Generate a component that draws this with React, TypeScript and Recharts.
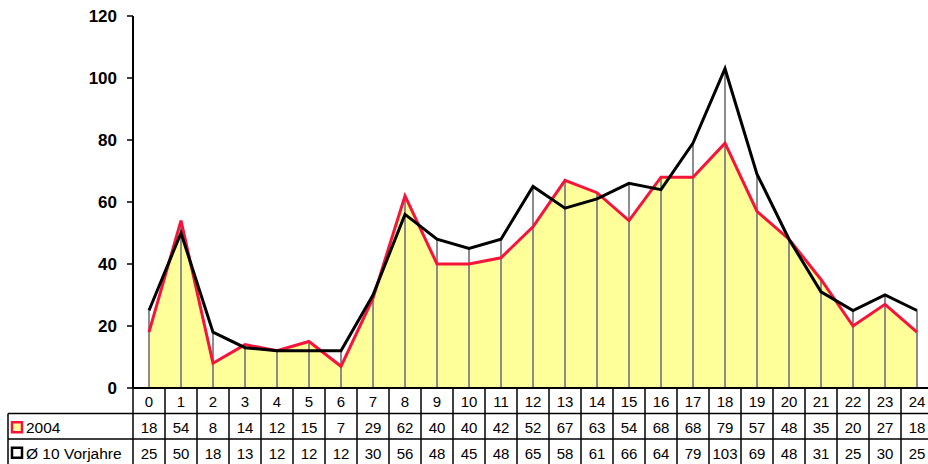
import React from "react";
import { ComposedChart, Area, Line, Bar, XAxis, YAxis } from "recharts";

// hours of the day
const HOURS = [
  "0", "1", "2", "3", "4", "5", "6", "7", "8", "9", "10", "11", "12",
  "13", "14", "15", "16", "17", "18", "19", "20", "21", "22", "23", "24",
];
const SERIES_2004 = [18, 54, 8, 14, 12, 15, 7, 29, 62, 40, 40, 42, 52, 67, 63, 54, 68, 68, 79, 57, 48, 35, 20, 27, 18];
const SERIES_AVG = [25, 50, 18, 13, 12, 12, 12, 30, 56, 48, 45, 48, 65, 58, 61, 66, 64, 79, 103, 69, 48, 31, 25, 30, 25];
const Y_TICKS = [0, 20, 40, 60, 80, 100, 120];

const LABEL_2004 = "2004";
const LABEL_AVG = "Ø 10 Vorjahre";

const FONT = "'Liberation Sans', Arial, sans-serif";
const RED = "#f5143c";
const FILL = "#ffff99";
const COL = 32;
const ROW = 25.5;
const LEGEND_LEFT = 8;

const data = HOURS.map((h, i) => ({
  hour: h,
  y2004: SERIES_2004[i],
  avg: SERIES_AVG[i],
  peak: Math.max(SERIES_2004[i], SERIES_AVG[i]),
}));

// vertical drop line from the axis up to the higher of both series
function DropLine(props: any) {
  const { x, y, width, height } = props;
  if (!height) return null;
  const cx = x + width / 2;
  return <line x1={cx} x2={cx} y1={y} y2={y + height} stroke="#8c8c8c" strokeWidth={2} />;
}

// x axis tick drawn as one column of the data table below the plot
function TableTick(props: any) {
  const { x, y, index, payload } = props;
  const left = x - COL / 2;
  const right = x + COL / 2;
  const r1 = y + ROW / 2;
  const r2 = y + ROW * 1.5;
  const r3 = y + ROW * 2.5;
  const txt = { fontFamily: FONT, fontSize: 15, fill: "#000", textAnchor: "middle" as const, dominantBaseline: "central" as const };
  return (
    <g>
      <line x1={right} x2={right} y1={y} y2={y + ROW * 3 + 2} stroke="#000" strokeWidth={1.5} />
      {index === 0 && (
        <g>
          <line x1={left} x2={left} y1={y} y2={y + ROW * 3 + 2} stroke="#000" strokeWidth={1.5} />
          <line x1={LEGEND_LEFT} x2={LEGEND_LEFT} y1={y + ROW} y2={y + ROW * 3 + 2} stroke="#000" strokeWidth={1.5} />
          <line x1={LEGEND_LEFT} x2={left} y1={y + ROW} y2={y + ROW} stroke="#000" strokeWidth={1.5} />
          <line x1={LEGEND_LEFT} x2={left} y1={y + ROW * 2} y2={y + ROW * 2} stroke="#000" strokeWidth={1.5} />
          <rect x={LEGEND_LEFT + 4} y={r2 - 4} width={10} height={10} fill={FILL} stroke={RED} strokeWidth={2.5} />
          <text x={LEGEND_LEFT + 18} y={r2 + 1.5} fontFamily={FONT} fontSize={15.5} dominantBaseline="central">{LABEL_2004}</text>
          <rect x={LEGEND_LEFT + 4} y={r3 - 4} width={10} height={10} fill="#fff" stroke="#000" strokeWidth={2.5} />
          <text x={LEGEND_LEFT + 18} y={r3 + 1.5} fontFamily={FONT} fontSize={15.5} dominantBaseline="central">{LABEL_AVG}</text>
        </g>
      )}
      <line x1={left} x2={right} y1={y + ROW} y2={y + ROW} stroke="#000" strokeWidth={1.5} />
      <line x1={left} x2={right} y1={y + ROW * 2} y2={y + ROW * 2} stroke="#000" strokeWidth={1.5} />
      <text x={x} y={r1 + 1} {...txt}>{payload.value}</text>
      <text x={x} y={r2 + 1.5} {...txt}>{SERIES_2004[index]}</text>
      <text x={x} y={r3 + 1.5} {...txt}>{SERIES_AVG[index]}</text>
    </g>
  );
}

export default function App() {
  return (
    <div style={{ position: "fixed", left: 0, top: 0, width: 928, height: 464, overflow: "hidden", background: "#fff" }}>
      <ComposedChart
        width={944}
        height={468}
        data={data}
        margin={{ top: 16, right: 11, left: 0, bottom: 0 }}
        barCategoryGap={0}
      >
        <XAxis
          dataKey="hour"
          height={80}
          interval={0}
          tickSize={0}
          tickMargin={0}
          tickLine={false}
          axisLine={{ stroke: "#000", strokeWidth: 2 }}
          tick={<TableTick />}
        />
        <YAxis
          width={133}
          domain={[0, 120]}
          ticks={Y_TICKS}
          interval={0}
          tickSize={6}
          tickMargin={10}
          axisLine={{ stroke: "#000", strokeWidth: 2 }}
          tickLine={{ stroke: "#000", strokeWidth: 1.5 }}
          tick={{ fontFamily: FONT, fontSize: 17, fontWeight: "bold", fill: "#000" }}
        />
        <Area dataKey="y2004" type="linear" stroke="none" fill={FILL} fillOpacity={1} isAnimationActive={false} />
        <Bar dataKey="peak" shape={<DropLine />} isAnimationActive={false} />
        <Line dataKey="y2004" type="linear" stroke={RED} strokeWidth={3} dot={false} isAnimationActive={false} />
        <Line dataKey="avg" type="linear" stroke="#000" strokeWidth={3} dot={false} isAnimationActive={false} />
      </ComposedChart>
    </div>
  );
}
